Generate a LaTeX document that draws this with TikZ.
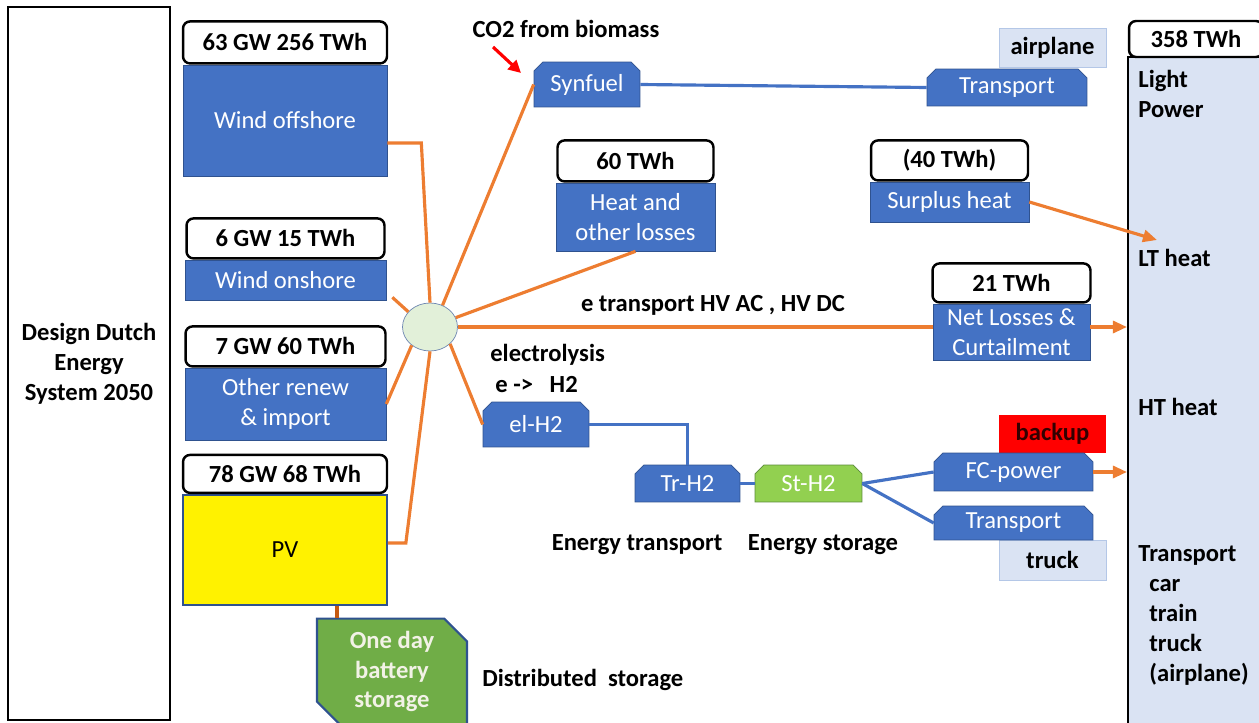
\documentclass[tikz,border=0pt]{standalone}
\usepackage{fontspec}
\setmainfont{Carlito}
\usetikzlibrary{arrows.meta,positioning,calc,shapes.misc,shapes.geometric}
\definecolor{Office}{HTML}{4472C4}
\definecolor{OfficeEdge}{HTML}{2F528F}
\definecolor{Orange}{HTML}{ED7D31}
\definecolor{Rust}{HTML}{C55A11}
\definecolor{Mint}{HTML}{E2F0D9}
\definecolor{Lime}{HTML}{92D050}
\definecolor{Leaf}{HTML}{70AD47}
\definecolor{Frost}{HTML}{DAE3F3}
\definecolor{FrostEdge}{HTML}{B4C7E7}
\definecolor{Cream}{HTML}{F2F2E6}
\tikzset{
  bf/.style={execute at begin node=\bfseries},
  oline/.style={draw=Orange,line width=1.8pt},
  oarr/.style={oline,-{Triangle[length=2.8mm,width=2.4mm]}},
  bline/.style={draw=Office,line width=1.8pt},
  hdr/.style={draw=black,fill=white,rounded corners=4pt,line width=1.4pt,bf,inner sep=0pt},
  bluebox/.style={draw=OfficeEdge,fill=Office,text=white,align=center,inner sep=0pt},
  chambox/.style={bluebox,chamfered rectangle,chamfered rectangle corners={north east,north west},chamfered rectangle sep=2.5pt},
  frostbox/.style={draw=FrostEdge,fill=Frost,bf,inner sep=0pt},
  lbl/.style={bf,inner sep=0pt}
}

\begin{document}
\begin{tikzpicture}[x=0.02cm,y=-0.02cm,font=\fontsize{14}{17}\selectfont]
  \useasboundingbox (0,0) rectangle (1259,723);
  \node[draw=black,line width=1.4pt,minimum width=3.24cm,minimum height=14.26cm,align=center,bf] (title) at (89,363.5) {Design Dutch\\Energy\\System 2050};
  % sources
  \node[bluebox,minimum width=4.08cm,minimum height=2.22cm] (woff) at (285,120.5) {Wind offshore};
  \node[hdr,above=0pt of woff,minimum width=4.08cm,minimum height=0.84cm] (woffh) {63 GW 256 TWh};
  \node[bluebox,minimum width=4.02cm,minimum height=0.8cm] (won) at (285.5,280) {Wind onshore};
  \node[hdr,above=0pt of won,minimum width=3.96cm,minimum height=0.8cm] (wonh) {6 GW 15 TWh};
  \node[bluebox,minimum width=4.02cm,minimum height=1.44cm] (oth) at (285.5,404) {Other renew\\\& import};
  \node[hdr,above=0pt of oth,minimum width=4.0cm,minimum height=0.8cm] (othh) {7 GW 60 TWh};
  \node[draw=OfficeEdge,fill=yellow,line width=1pt,minimum width=4.08cm,minimum height=2.2cm,inner sep=0pt] (pv) at (285,550) {PV};
  \node[hdr,above=0pt of pv,minimum width=4.08cm,minimum height=0.76cm] (pvh) {78 GW 68 TWh};
  \node[draw=OfficeEdge,fill=Leaf,line width=1.2pt,chamfered rectangle,chamfered rectangle corners={north east,south west},chamfered rectangle xsep=6pt,chamfered rectangle ysep=7pt,minimum width=3.0cm,minimum height=1.9cm,text=Cream,align=center,bf,inner sep=0pt] (bat) at (392,671.5) {One day\\battery\\storage};
  \node[ellipse,draw=OfficeEdge!70,fill=Mint,minimum width=1.1cm,minimum height=0.96cm,inner sep=0pt] (hub) at (430,327) {};
  % conversion
  \node[chambox,minimum width=2.12cm,minimum height=0.9cm] (syn) at (587,84.5) {Synfuel};
  \node[frostbox,minimum width=2.14cm,minimum height=0.78cm] (air) at (1052.5,47.5) {airplane};
  \node[chambox,minimum width=3.2cm,minimum height=0.74cm] (trA) at (1007,87.5) {Transport};
  \node[bluebox,minimum width=3.18cm,minimum height=1.36cm] (heat) at (635.5,217) {Heat and\\other losses};
  \node[hdr,above=0pt of heat,minimum width=3.12cm,minimum height=0.82cm] (heath) {60 TWh};
  \node[bluebox,minimum width=3.18cm,minimum height=0.8cm] (surp) at (949.5,202) {Surplus heat};
  \node[hdr,above=0pt of surp,minimum width=3.14cm,minimum height=0.8cm] (surph) {(40 TWh)};
  \node[bluebox,minimum width=3.14cm,minimum height=1.12cm] (net) at (1011.5,332) {Net Losses \&\\Curtailment};
  \node[hdr,above=0pt of net,minimum width=3.16cm,minimum height=0.78cm] (neth) {21 TWh};
  \node[chambox,minimum width=2.12cm,minimum height=0.9cm] (elh) at (536,424.5) {el-H2};
  \node[chambox,minimum width=2.1cm,minimum height=0.74cm] (trh) at (687.5,483.5) {Tr-H2};
  \node[chambox,fill=Lime,draw=Leaf!80!black,minimum width=2.14cm,minimum height=0.74cm] (sth) at (808.5,483.5) {St-H2};
  \node[fill=red,bf,text=black!80!red,inner sep=0pt,minimum width=2.14cm,minimum height=0.76cm] (bkp) at (1052.5,434) {backup};
  \node[chambox,minimum width=3.18cm,minimum height=0.76cm] (fcp) at (1013.5,472) {FC-power};
  \node[frostbox,minimum width=2.14cm,minimum height=0.8cm] (trk) at (1052.5,560) {truck};
  \node[chambox,minimum width=3.18cm,minimum height=0.68cm] (trT) at (1013.5,523) {Transport};
  % demand
  \node[draw=black,fill=Frost,line width=1.2pt,minimum width=2.74cm,minimum height=13.46cm] (panel) at (1196.5,393.5) {};
  \node[hdr,minimum width=2.68cm,minimum height=0.72cm] (panelh) at (1196,39) {358 TWh};
  \node[lbl,anchor=west,align=left] (light) at (1138,94) {Light\\Power};
  \node[lbl,anchor=west] (lt) at (1138,258) {LT heat};
  \node[lbl,anchor=west] (ht) at (1138,407) {HT heat};
  \node[lbl,anchor=west,align=left] (mob) at (1138,615.5) {Transport\\\hspace*{0.45em}car\\\hspace*{0.45em}train\\\hspace*{0.45em}truck\\\hspace*{0.45em}(airplane)};
  % labels
  \node[lbl] (co2) at (566,29) {CO2 from biomass};
  \node[lbl] (etr) at (713,305) {e transport HV AC , HV DC};
  \node[lbl,anchor=west] (ely) at (490,355) {electrolysis};
  \node[lbl,anchor=west] (eh2) at (495,385) {e -> \ \ H2};
  \node[lbl] (etl) at (637,545) {Energy transport};
  \node[lbl] (esl) at (823,545) {Energy storage};
  \node[lbl,anchor=west] (dsl) at (482,680) {Distributed\ \ storage};
  \coordinate (co2a) at (493,47);
  \coordinate (co2b) at (521,73);
  \coordinate (ltin) at (1157,240);
  % electricity
  \draw[oline] ([yshift=-0.45cm]woff.east) -- ++(34,0) -- (hub.north);
  \draw[oline] ($(won.south east)+(6,-3)$) -- (hub.145);
  \draw[oline] (oth.east) -- (hub.225);
  \draw[oline] ([yshift=0.14cm]pv.east) -- ++(18,0) -- (hub.south);
  \draw[draw=Rust,line width=1.8pt] ([xshift=1.04cm]pv.south) -- ([xshift=1.04cm]pv.south |- bat.north);
  \draw[oline] (hub.60) -- (syn.west);
  \draw[oline] (hub.20) -- (heat.south);
  \draw[oline] (hub.-40) -- (elh.west);
  \draw[oline] (hub.east) -- (hub.east -| net.west);
  \draw[oarr] (net.east |- hub.east) -- (hub.east -| panel.west);
  \draw[oarr] (surp.east) -- (ltin);
  \draw[oarr] (fcp.east) -- (fcp.east -| panel.west);
  \draw[red,line width=1.8pt,-{Triangle[length=2.5mm,width=2.5mm]}] (co2a) -- (co2b);
  % hydrogen and fuel
  \draw[bline] (syn.east) -- (trA.west);
  \draw[bline] (elh.east) -| (trh.north);
  \draw[bline] (trh.east) -- (sth.west);
  \draw[bline] (sth.east) -- (fcp.west);
  \draw[bline] (sth.east) -- (trT.west);
\end{tikzpicture}
\end{document}
